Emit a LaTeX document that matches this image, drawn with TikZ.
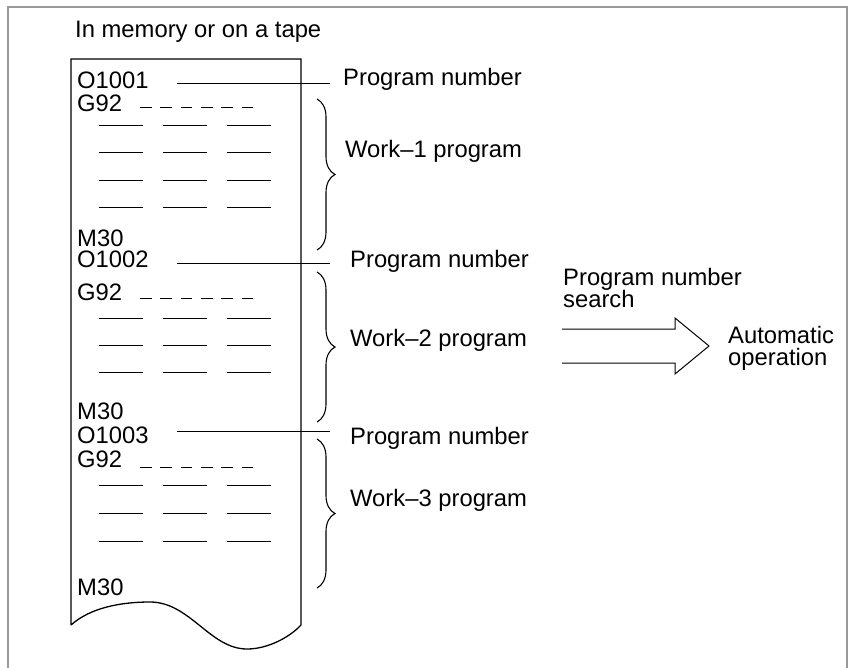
\documentclass[tikz,border=0pt]{standalone}
\usepackage{fontspec}
\setmainfont{Liberation Sans}
\usetikzlibrary{decorations.pathreplacing,calc}
\begin{document}
\begin{tikzpicture}[x=1pt,y=-1pt,
  txt/.style={anchor=base west,inner sep=0pt,font=\fontsize{23.8}{28}\selectfont},
  ln/.style={line width=1pt},
  dsh/.style={line width=1pt,dash pattern=on 11.6pt off 8.7pt},
  brc/.style={line width=1.1pt,decorate,decoration={brace,amplitude=18pt,aspect=0.5}},
  frm/.style={line width=2pt,draw=black!40}]
\useasboundingbox (0,0) rectangle (848,668);
% outer frame
\draw[frm] (8,668) -- (8,7) -- (847,7) -- (847,668);
% title
\node[txt] (title) at (75,38) {In memory or on a tape};
% tape
\draw[line width=1.3pt] (71,625) -- (71,59) -- (301,59) -- (301,625)
  .. controls (290,637) and (268,649) .. (247,649)
  .. controls (210,649) and (190,602) .. (150,602)
  .. controls (120,602) and (90,608) .. (71,625);
% block 1
\node[txt] (o1) at (77,89) {O1001};
\node[txt] (g1) at (77,112) {G92};
\draw[dsh] (140,108) -- (253,108);
\foreach \y in {126,153,181,208}{
  \foreach \x in {99,163,227}{ \draw[ln] (\x,\y) -- ++(44,0); } }
\node[txt] (m1) at (77,247) {M30};
% block 2
\node[txt] (o2) at (77,268) {O1002};
\node[txt] (g2) at (77,300) {G92};
\draw[dsh] (140,298) -- (253,298);
\foreach \y in {318,345,372}{
  \foreach \x in {99,163,227}{ \draw[ln] (\x,\y) -- ++(44,0); } }
\node[txt] (m2) at (77,419) {M30};
% block 3
\node[txt] (o3) at (77,443) {O1003};
\node[txt] (g3) at (77,467) {G92};
\draw[dsh] (140,467) -- (253,467);
\foreach \y in {485,513,541}{
  \foreach \x in {99,163,227}{ \draw[ln] (\x,\y) -- ++(44,0); } }
\node[txt] (m3) at (77,595) {M30};
% labels
\node[txt] (p1) at (343,86) {Program number};
\node[txt] (p2) at (350,267) {Program number};
\node[txt] (p3) at (350,444) {Program number};
\node[txt] (w1) at (345,158) {Work–1 program};
\node[txt] (w2) at (350,346) {Work–2 program};
\node[txt] (w3) at (350,506) {Work–3 program};
% leaders
\coordinate (l1a) at (177,84); \coordinate (l1b) at (330,84);
\coordinate (l2a) at (177,264); \coordinate (l2b) at (330,264);
\coordinate (l3a) at (177,431); \coordinate (l3b) at (330,431);
\draw[ln] (l1a) -- (l1b);
\draw[ln] (l2a) -- (l2b);
\draw[ln] (l3a) -- (l3b);
% braces
\draw[brc] (317,99) -- (317,250);
\draw[brc] (317,272) -- (317,422);
\draw[brc] (317,439) -- (317,588);
% arrow
\draw[ln] (562,329) -- (675,329) -- (675,318) -- (709,346) -- (675,374) -- (675,363) -- (562,363);
\node[txt] (s1) at (563,285) {Program number};
\node[txt] (s2) at (563,307) {search};
\node[txt] (a1) at (728,343) {Automatic};
\node[txt] (a2) at (728,365) {operation};
\end{tikzpicture}
\end{document}
